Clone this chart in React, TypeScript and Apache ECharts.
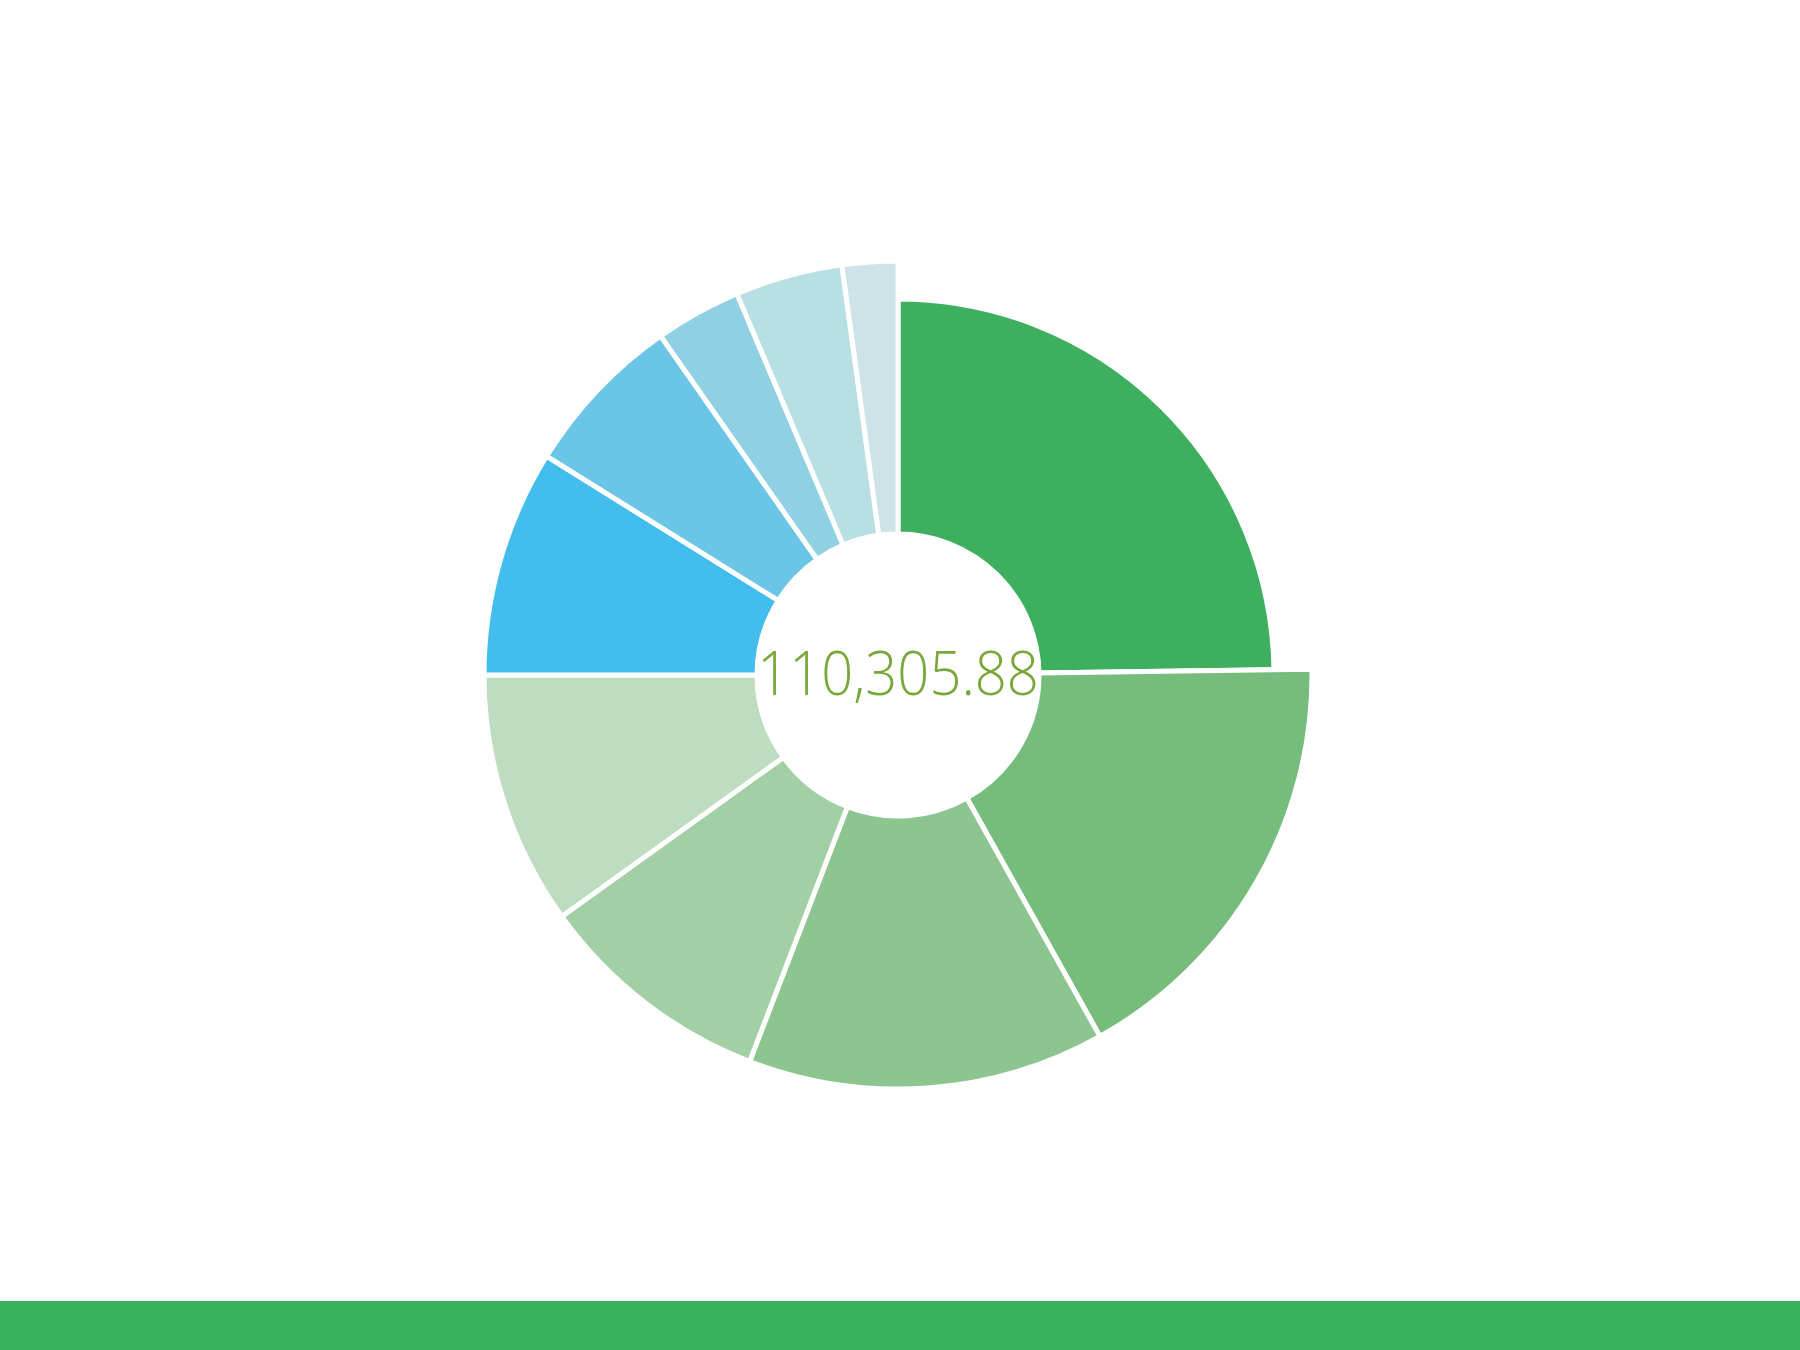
import React, { useEffect, useRef } from "react";
import * as echarts from "echarts";

const categories = ["A", "B", "C", "D", "E", "F", "G", "H", "I", "J"];
const values = [2553.6, 1763.5, 1437.1, 953.3, 1022.0, 913.2, 661.3, 346.4, 432.3, 223.18];
const colors = [
  "#3daf5e", "#76bd7d", "#8dc591", "#a3cfa4", "#bedcbf",
  "#42bdee", "#6bc5e6", "#8fd1e3", "#b8dfe3", "#cde3e8",
];
const totalLabel = "110,305.88";

export default function App() {
  const ref = useRef<HTMLDivElement>(null);
  useEffect(() => {
    document.body.style.margin = "0";
    if (!ref.current) return;
    const chart = echarts.init(ref.current, null, { renderer: "svg" });
    const cx = 898;
    const cy = 675;
    const firstData = categories.map((c, i) => ({
      name: c,
      value: values[i],
      itemStyle:
        i === 0
          ? { color: colors[i], borderColor: "#fff", borderWidth: 5 }
          : { color: "rgba(0,0,0,0)", borderWidth: 0 },
    }));
    const restData = categories.map((c, i) => ({
      name: c,
      value: values[i],
      itemStyle:
        i === 0
          ? { color: "rgba(0,0,0,0)", borderWidth: 0 }
          : { color: colors[i], borderColor: "#fff", borderWidth: 5 },
    }));
    chart.setOption({
      animation: false,
      backgroundColor: "#ffffff",
      series: [
        {
          type: "pie",
          center: [cx, cy],
          radius: [141, 376],
          startAngle: 90,
          clockwise: true,
          label: { show: false },
          labelLine: { show: false },
          emphasis: { disabled: true },
          silent: true,
          data: firstData,
        },
        {
          type: "pie",
          center: [cx, cy],
          radius: [141, 414],
          startAngle: 90,
          clockwise: true,
          label: { show: false },
          labelLine: { show: false },
          emphasis: { disabled: true },
          silent: true,
          data: restData,
        },
      ],
      graphic: [
        {
          type: "text",
          x: cx,
          y: cy - 4,
          scaleX: 0.92,
          z: 100,
          style: {
            text: totalLabel,
            fill: "#79a83a",
            font: '300 61px "Open Sans"',
            textAlign: "center",
            textVerticalAlign: "middle",
          },
        },
        {
          type: "rect",
          shape: { x: 0, y: 1301, width: 1800, height: 49 },
          style: { fill: "#38b15c" },
        },
      ],
    });
    return () => chart.dispose();
  }, []);
  return <div ref={ref} style={{ width: 1800, height: 1350 }} />;
}
